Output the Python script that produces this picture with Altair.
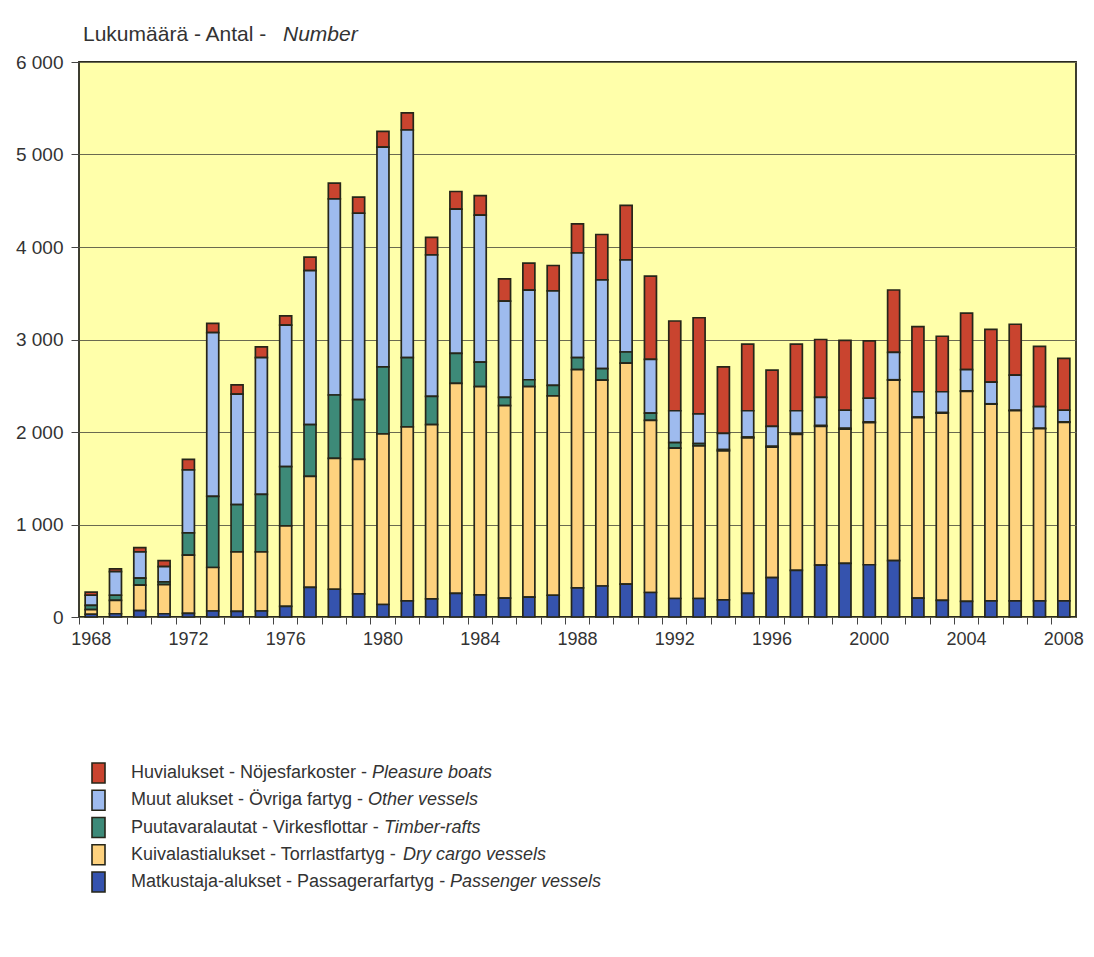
import altair as alt
import pandas as pd

years = list(range(1968, 2009))
passenger = [30, 35, 70, 35, 40, 65, 60, 65, 115, 320, 300, 250, 135, 175, 195, 255, 240, 205, 215, 235,
             315, 335, 355, 265, 200, 200, 185, 255, 425, 505, 560, 580, 565, 610, 205, 180, 170, 175,
             175, 175, 175]
dry_cargo = [50, 145, 275, 315, 630, 470, 645, 640, 870, 1200, 1415, 1455, 1845, 1880, 1885, 2270, 2250,
             2080, 2275, 2155, 2360, 2225, 2390, 1860, 1625, 1650, 1610, 1680, 1410, 1470, 1500, 1450,
             1535, 1950, 1950, 2025, 2270, 2125, 2055, 1860, 1930]
timber = [45, 55, 75, 30, 240, 770, 510, 620, 640, 560, 685, 645, 725, 750, 305, 325, 265, 90, 75, 115,
          130, 125, 120, 80, 60, 25, 15, 10, 10, 10, 10, 10, 10, 5, 5, 5, 5, 5, 5, 5, 5]
other = [110, 255, 285, 165, 680, 1770, 1195, 1480, 1530, 1665, 2120, 2015, 2375, 2460, 1530, 1560, 1590,
         1040, 968, 1020, 1130, 960, 995, 580, 345, 320, 175, 285, 215, 245, 305, 195, 255, 295, 275,
         225, 230, 235, 380, 235, 125]
pleasure = [35, 30, 45, 65, 115, 100, 100, 115, 100, 145, 170, 175, 170, 185, 190, 190, 210, 240, 293,
            275, 315, 490, 590, 900, 970, 1040, 720, 720, 610, 720, 625, 755, 620, 675, 705, 600, 610,
            570, 550, 650, 560]

series_keys = ["Huvialukset", "Muut", "Puutavaralautat", "Kuivalasti", "Matkustaja"]
series_values = [pleasure, other, timber, dry_cargo, passenger]
series_colors = ["#C9442F", "#9EBBEE", "#3D8A78", "#FED27E", "#3553AE"]
stack_order = [5, 4, 3, 2, 1]
legend_plain = ["Huvialukset - Nöjesfarkoster - ", "Muut alukset - Övriga fartyg - ",
                "Puutavaralautat - Virkesflottar - ", "Kuivalastialukset - Torrlastfartyg - ",
                "Matkustaja-alukset - Passagerarfartyg - "]
legend_italic = ["Pleasure boats", "Other vessels", "Timber-rafts", "Dry cargo vessels", "Passenger vessels"]
title_plain = "Lukumäärä - Antal - "
title_italic = "Number"

# layout (pixels) for the hand-built legend: start of the italic part of each row
legend_italic_x = [293, 289, 305, 324, 371]

FONT = "Liberation Sans, Arial, sans-serif"
TXT = "#333333"

rows = []
for key, vals, o in zip(series_keys, series_values, stack_order):
    for y, v in zip(years, vals):
        rows.append({"year": y, "series": key, "value": v, "order": o})
df = pd.DataFrame(rows)

color_scale = alt.Scale(domain=series_keys, range=series_colors)

W, H = 997, 555

bars = alt.Chart(df).mark_bar(size=12, stroke="#262619", strokeWidth=1.7).encode(
    x=alt.X("year:O", title=None,
            scale=alt.Scale(paddingInner=0, paddingOuter=0),
            axis=alt.Axis(bandPosition=0, labelAngle=0,
                          labelExpr="(datum.value - 1968) % 4 == 0 ? datum.label : ''",
                          tickSize=7, tickColor="#444", tickWidth=1, domain=False,
                          labelFont=FONT, labelFontSize=18, labelColor=TXT, labelPadding=6)),
    y=alt.Y("value:Q", stack="zero", title=None,
            scale=alt.Scale(domain=[0, 6000]),
            axis=alt.Axis(values=[0, 1000, 2000, 3000, 4000, 5000, 6000],
                          labelExpr="replace(format(datum.value, ','), ',', ' ')",
                          tickSize=8, tickColor="#444", domain=False,
                          grid=True, gridColor="#6a6a50", gridWidth=1,
                          labelFont=FONT, labelFontSize=19, labelColor=TXT, labelPadding=8)),
    color=alt.Color("series:N", scale=color_scale, legend=None),
    order=alt.Order("order:Q"),
)

title_df = pd.DataFrame({"plain": [title_plain], "italic": [title_italic]})
title1 = alt.Chart(title_df).mark_text(align="left", baseline="alphabetic", font=FONT, fontSize=21,
                                       color=TXT).encode(
    x=alt.value(4), y=alt.value(-21), text="plain:N")
title2 = alt.Chart(title_df).mark_text(align="left", baseline="alphabetic", font=FONT, fontSize=21,
                                       fontStyle="italic", color=TXT).encode(
    x=alt.value(204), y=alt.value(-21), text="italic:N")

leg_df = pd.DataFrame({"row": list(range(5)), "series": series_keys,
                       "plain": legend_plain, "italic": legend_italic,
                       "ioff": legend_italic_x})
row_scale = alt.Scale(domain=[0, 4], range=[711, 820])

leg_rect = alt.Chart(leg_df).mark_rect(stroke="#262619", strokeWidth=1.6, yOffset=-10, y2Offset=10).encode(
    x=alt.value(13), x2=alt.value(26),
    y=alt.Y("row:Q", scale=row_scale, axis=None),
    y2="row:Q",
    color=alt.Color("series:N", scale=color_scale, legend=None),
)
leg_t1 = alt.Chart(leg_df).mark_text(align="left", baseline="middle", font=FONT, fontSize=18,
                                     color=TXT).encode(
    x=alt.value(52),
    y=alt.Y("row:Q", scale=row_scale, axis=None),
    text="plain:N")
leg_t2 = alt.Chart(leg_df).mark_text(align="left", baseline="middle", font=FONT, fontSize=18,
                                     fontStyle="italic", color=TXT).encode(
    x=alt.X("ioff:Q", scale=None),
    y=alt.Y("row:Q", scale=row_scale, axis=None),
    text="italic:N")

chart = alt.layer(bars, title1, title2, leg_rect, leg_t1, leg_t2).resolve_scale(
    y="independent", x="independent"
).properties(
    width=W, height=H,
    autosize=alt.AutoSizeParams(type="none"),
    padding={"left": 71, "top": 54, "right": 10, "bottom": 290},
    background="white",
).configure_view(
    fill="#FFFFAA", stroke="#2a2a1e", strokeWidth=1.8
)

chart.save("out.html", embed_options={"renderer": "svg", "actions": False})
